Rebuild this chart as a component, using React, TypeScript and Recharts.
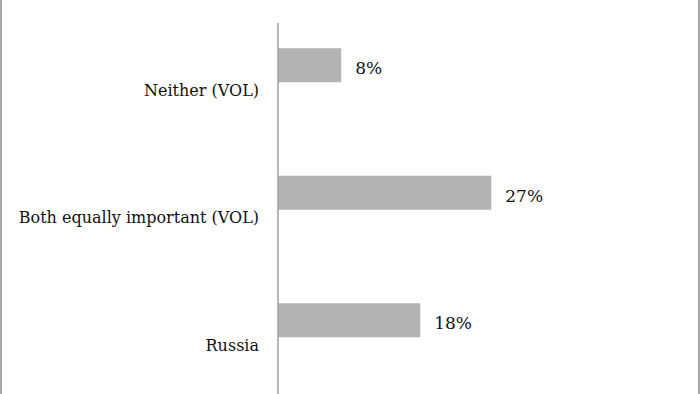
import React from 'react';
import { BarChart, Bar, XAxis, YAxis, LabelList } from 'recharts';

const categories = ['Neither (VOL)', 'Both equally important (VOL)', 'Russia'];
const shares = [8, 27, 18];

const data = categories.map((name, i) => ({ name, value: shares[i] }));

const FONT = '"DejaVu Serif", "Liberation Serif", serif';

// category labels sit a bit below the bar in the original
const CategoryTick = (props: any) => {
  const { x, y, payload } = props;
  return (
    <text x={x - 11} y={y + 25} dy="0.35em" textAnchor="end" fontFamily={FONT} fontSize={16} fill="#111">
      {payload.value}
    </text>
  );
};

const ValueLabel = (props: any) => {
  const { x, y, width, height, value } = props;
  return (
    <text x={x + width + 14} y={y + height / 2 + 3} dy="0.35em" fontFamily={FONT} fontSize={17} fill="#111">
      {`${value}%`}
    </text>
  );
};

const App: React.FC = () => {
  return (
    <div
      style={{
        position: 'absolute',
        left: 0,
        top: 0,
        width: 700,
        height: 394,
        boxSizing: 'border-box',
        borderLeft: '2px solid #a6a6a6',
        borderRight: '2px solid #a6a6a6',
        background: '#fff',
      }}
    >
      <BarChart
        width={696}
        height={394}
        data={data}
        layout="vertical"
        margin={{ top: 23, right: 25, bottom: 0, left: 0 }}
      >
        <XAxis type="number" domain={[0, 50]} hide />
        <YAxis
          type="category"
          dataKey="name"
          width={276}
          padding={{ top: -21.75, bottom: 10.25 }}
          axisLine={{ stroke: '#a0a0a0', strokeWidth: 1.5 }}
          tickLine={false}
          tick={<CategoryTick />}
          interval={0}
        />
        <Bar dataKey="value" fill="#b3b3b3" barSize={34} isAnimationActive={false}>
          <LabelList dataKey="value" content={<ValueLabel />} />
        </Bar>
      </BarChart>
    </div>
  );
};

export default App;
